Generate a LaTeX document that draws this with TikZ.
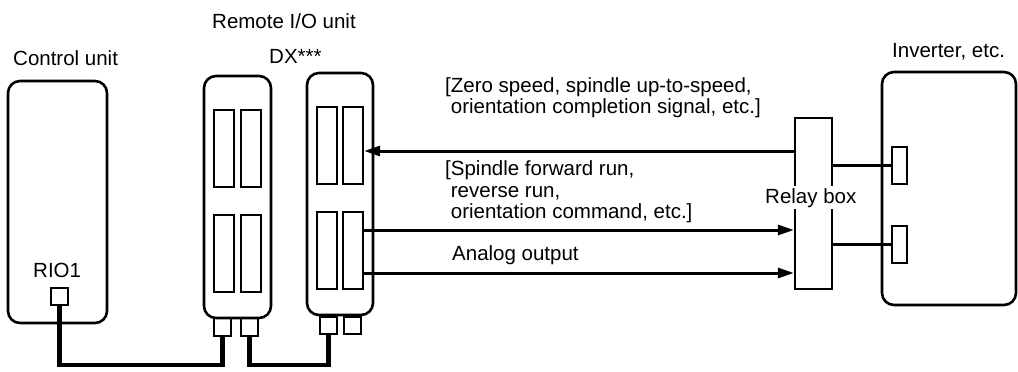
\documentclass[tikz,border=0pt]{standalone}
\usepackage{fontspec}
\setmainfont{Liberation Sans}
\usetikzlibrary{arrows.meta}
\begin{document}
\begin{tikzpicture}[x=1pt,y=-1pt,
  every node/.style={font=\fontsize{20.5}{24}\selectfont, inner sep=0pt},
  lbl/.style={anchor=base west},
  unitbox/.style={draw, line width=2.6pt, rounded corners=12pt, minimum width=#1, anchor=center},
  slotbox/.style={draw, line width=2.3pt, minimum width=20pt, minimum height=77pt},
  portbox/.style={draw, line width=2.2pt, minimum width=17pt, minimum height=17pt},
  cable/.style={line width=4.6pt},
  sig/.style={line width=3pt, -{Triangle[length=16pt,width=10pt]}},
  thin/.style={line width=2.2pt}]
\useasboundingbox (0,0) rectangle (1018,372);
% control unit
\node[unitbox=99pt, minimum height=242pt] (cu) at (57.5,202) {};
\node[lbl] (cul) at (13,65) {Control unit};
\node[lbl] (rio) at (33,277) {RIO1};
\node[portbox] (rp) at (59.5,296.5) {};
% remote I/O units
\node[lbl] (riol) at (212,28) {Remote I/O unit};
\node[lbl] (dx) at (269,63) {DX***};
\node[unitbox=67pt, minimum height=242pt] (u1) at (237.5,197) {};
\node[unitbox=66pt, minimum height=242pt] (u2) at (340,194) {};
\node[slotbox] (s1tl) at (224,148.5) {};
\node[slotbox] (s1tr) at (251,148.5) {};
\node[slotbox] (s1bl) at (224,253.5) {};
\node[slotbox] (s1br) at (251,253.5) {};
\node[slotbox] (s2tl) at (327,145.5) {};
\node[slotbox] (s2tr) at (353,145.5) {};
\node[slotbox] (s2bl) at (327,250.5) {};
\node[slotbox] (s2br) at (353,250.5) {};
\node[portbox, minimum height=18pt] (c1a) at (222.5,327) {};
\node[portbox, minimum height=18pt] (c1b) at (249.5,327) {};
\node[portbox] (c2a) at (328.5,325.5) {};
\node[portbox] (c2b) at (352.5,325.5) {};
% relay box and inverter
\node[draw, line width=2.3pt, minimum width=37pt, minimum height=171pt] (relay) at (813.5,203.5) {};
\node[lbl, fill=white, inner sep=2pt] (relayl) at (763,203) {Relay box};
\node[unitbox=134pt, minimum height=233pt] (inv) at (949,188.5) {};
\node[lbl] (invl) at (892,57) {Inverter, etc.};
\node[draw, line width=2.2pt, minimum width=15pt, minimum height=37pt] (ip1) at (899.5,165.5) {};
\node[draw, line width=2.2pt, minimum width=15pt, minimum height=37pt] (ip2) at (899.5,244.5) {};
% cables
\draw[cable] (rp.south) -- (rp.south |- 0,365) -| (c1a.south);
\draw[cable] (c1b.south) -- (c1b.south |- 0,365) -| (c2a.south);
% signals
\draw[sig] (relay.west |- 0,151) -- (s2tr.east |- 0,151);
\draw[sig] (s2br.east |- 0,230) -- (relay.west |- 0,230);
\draw[sig] (s2br.east |- 0,273) -- (relay.west |- 0,273);
\draw[thin] (relay.east |- ip1.west) -- (ip1.west);
\draw[thin] (relay.east |- ip2.west) -- (ip2.west);
% labels
\node[lbl] (t1a) at (445,92.5) {[Zero speed, spindle up-to-speed,};
\node[lbl] (t1b) at (445,113) {\phantom{[}orientation completion signal, etc.]};
\node[lbl] (t2a) at (445,175) {[Spindle forward run,};
\node[lbl] (t2b) at (445,197) {\phantom{[}reverse run,};
\node[lbl] (t2c) at (445,218) {\phantom{[}orientation command, etc.]};
\node[lbl] (t3) at (452,260) {Analog output};
\end{tikzpicture}
\end{document}
